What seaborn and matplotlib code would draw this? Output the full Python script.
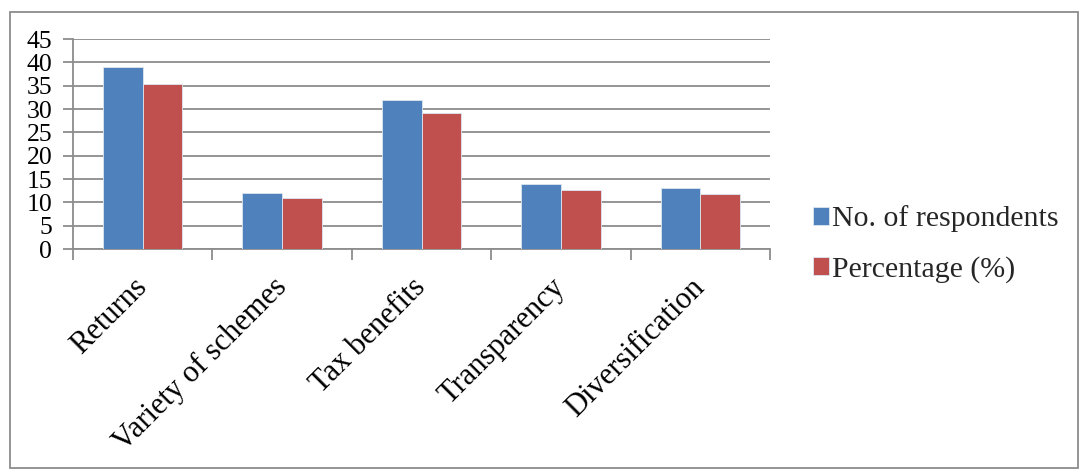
import matplotlib
matplotlib.use("Agg")
import matplotlib.pyplot as plt
import seaborn as sns
import pandas as pd
import numpy as np
from matplotlib.patches import Rectangle
from matplotlib.transforms import ScaledTranslation

categories = ["Returns", "Variety of schemes", "Tax benefits", "Transparency", "Diversification"]
respondents = [39, 12, 32, 14, 13]
percentage = [35.45, 10.91, 29.09, 12.73, 11.82]
series_names = ["No. of respondents", "Percentage (%)"]
colors = ["#4F81BD", "#C0504D"]

df = pd.DataFrame({
    "Category": categories * 2,
    "Value": respondents + percentage,
    "Series": [series_names[0]] * 5 + [series_names[1]] * 5,
})

sns.set_theme(style="white")
plt.rcParams["font.family"] = ["Liberation Serif", "DejaVu Serif"]

fig = plt.figure(figsize=(10.8, 4.7), dpi=100)
ax = fig.add_axes([73/1080, 1-249/470, (770-73)/1080, (249-39)/470])

sns.barplot(data=df, x="Category", y="Value", hue="Series", palette=colors,
            saturation=1, width=0.57, ax=ax, errorbar=None, edgecolor="#dde6f0",
            linewidth=0.6, zorder=3)

ax.set_ylim(0, 45)
ax.set_xlim(-0.5, 4.5)
ax.set_yticks(np.arange(0, 46, 5))
ax.yaxis.grid(True, color="#8c8c8c", linewidth=1.3, zorder=0)
ax.set_axisbelow(True)
ax.set_xlabel("")
ax.set_ylabel("")

for s in ["top", "right"]:
    ax.spines[s].set_visible(False)
for s in ["left", "bottom"]:
    ax.spines[s].set_color("#8c8c8c")
    ax.spines[s].set_linewidth(1.3)

ax.tick_params(axis="y", which="major", length=7, width=1.3, color="#8c8c8c",
               labelsize=18.5, pad=8, left=True)
ax.set_xticks(range(len(categories)))
ax.set_xticklabels(categories, rotation=45, ha="right", rotation_mode="anchor")
ax.tick_params(axis="x", which="major", length=0, labelsize=22, pad=17)
ax.set_xticks(np.arange(-0.5, 5, 1), minor=True)
ax.tick_params(axis="x", which="minor", length=8, width=1.3, color="#8c8c8c", bottom=True)
shift = ScaledTranslation(-10/100, 0, fig.dpi_scale_trans)
for lbl in ax.get_xticklabels():
    lbl.set_transform(lbl.get_transform() + shift)
for lbl in ax.get_yticklabels() + ax.get_xticklabels():
    lbl.set_color("black")

handles, labels = ax.get_legend_handles_labels()
ax.legend(handles, labels, loc="center left", bbox_to_anchor=(786/1080, 1-244/470),
          bbox_transform=fig.transFigure, frameon=False, fontsize=21.5,
          handlelength=0.55, handleheight=0.55, handletextpad=0.1, labelspacing=0.8)

fig.patches.append(Rectangle((10/1080, 2/470), 1068/1080, 456/470, transform=fig.transFigure,
                             fill=False, edgecolor="#8c8c8c", linewidth=1.3))

fig.savefig("out.png", dpi=100, facecolor="white")
